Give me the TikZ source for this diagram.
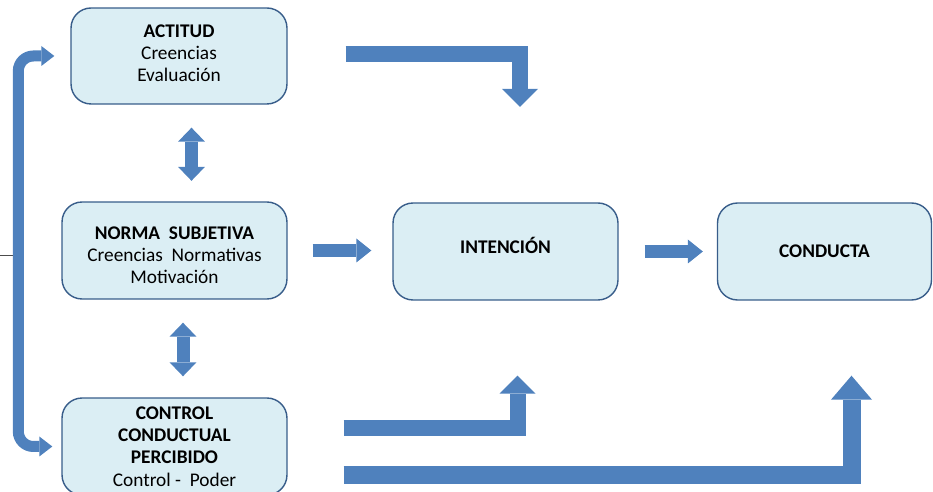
\documentclass[tikz,border=0pt]{standalone}
\usepackage{fontspec}
\setmainfont{Carlito}
\usetikzlibrary{arrows.meta,calc}

\definecolor{boxfill}{HTML}{DBEEF4}
\definecolor{boxline}{HTML}{385D8A}
\definecolor{arrowblue}{HTML}{4F81BD}

\begin{document}
\begin{tikzpicture}[x=0.02cm,y=-0.02cm,
  every node/.style={font=\fontsize{11}{12.7}\selectfont},
  box/.style={draw=boxline, fill=boxfill, line width=0.8pt, rounded corners=0.4cm,
    align=center, minimum width=4.5cm, minimum height=1.94cm, inner sep=2pt},
  fatarrow/.style={draw=arrowblue, line width=0.32cm, line join=miter,
    -{Triangle[line width=0pt,length=0.36cm,width=0.72cm]}},
  slimarrow/.style={draw=arrowblue, line width=0.25cm,
    -{Triangle[line width=0pt,length=0.3cm,width=0.48cm]}},
  dblarrow/.style={draw=arrowblue, line width=0.26cm,
    {Triangle[line width=0pt,length=0.28cm,width=0.54cm]}-{Triangle[line width=0pt,length=0.28cm,width=0.54cm]}},
  looparrow/.style={draw=arrowblue, line width=0.22cm, rounded corners=0.3cm,
    {Triangle[line width=0pt,length=0.26cm,width=0.4cm]}-{Triangle[line width=0pt,length=0.26cm,width=0.4cm]}}]
\clip (0,0) rectangle (933,492);

% cajas
\node[box, minimum width=4.32cm, minimum height=1.92cm] (actitud) at (179,56)
  {\textbf{ACTITUD}\\Creencias\\Evaluación\rule[-0.12cm]{0pt}{0pt}};
\node[box] (norma) at (174.5,250.5)
  {\rule{0pt}{0.45cm}\textbf{NORMA\ \ SUBJETIVA}\\Creencias\ \ Normativas\\Motivación};
\node[box] (control) at (174.5,446.5)
  {\textbf{CONTROL}\\\textbf{CONDUCTUAL}\\\textbf{PERCIBIDO}\\Control -\ \ Poder};
\node[box] (intencion) at (505.5,251.5) {\textbf{INTENCIÓN}\rule[-0.25cm]{0pt}{0pt}};
\node[box, minimum width=4.28cm] (conducta) at (824.5,251.5) {\textbf{CONDUCTA}};

% flechas
\draw[gray!60!black, line width=0.4pt] (0,255) -- (19,255);
\draw[looparrow] ($(actitud.west)+(-16,0)$) -| ($(control.west)+(-43,0)$)
  -- ($(control.west)+(-9,0)$);
\draw[dblarrow] ($(actitud.south)+(12.5,23)$) -- ($(norma.north)+(17,-20.5)$);
\draw[dblarrow] ($(norma.south)+(8.5,23)$) -- ($(control.north)+(8.5,-21)$);
\draw[fatarrow] ($(actitud.east)+(58,-2)$) -| ($(intencion.north)+(14.5,-95.5)$);
\draw[slimarrow] ($(norma.east)+(25,0)$) -- ($(intencion.west)+(-21,-1)$);
\draw[slimarrow] ($(intencion.east)+(26,0)$) -- ($(conducta.west)+(-14,0)$);
\draw[fatarrow] ($(control.east)+(56,-18)$) -| ($(intencion.south)+(12,75)$);
\draw[fatarrow, line width=0.36cm, -{Triangle[line width=0pt,length=0.48cm,width=0.82cm]}]
  ($(control.east)+(56,29)$) -| ($(conducta.south)+(27,75)$);
\end{tikzpicture}
\end{document}
